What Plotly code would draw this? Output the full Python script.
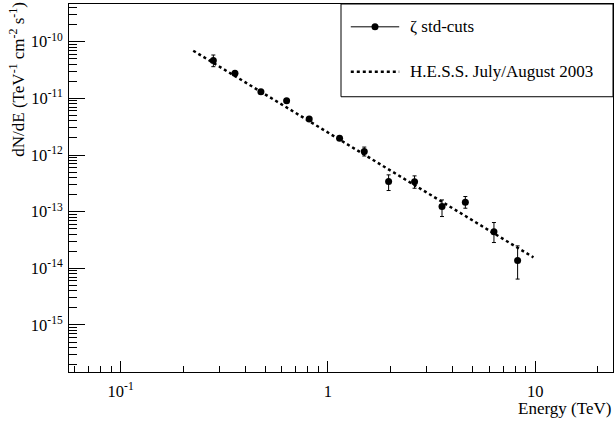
import plotly.graph_objects as go

# Measured differential spectrum (zeta analysis, standard cuts)
energy_tev = [0.280, 0.356, 0.475, 0.632, 0.812, 1.138, 1.497, 1.962, 2.617, 3.55, 4.60, 6.32, 8.22]
flux = [4.65e-11, 2.77e-11, 1.31e-11, 9.1e-12, 4.34e-12, 1.98e-12, 1.15e-12,
        3.40e-13, 3.36e-13, 1.23e-13, 1.47e-13, 4.40e-14, 1.37e-14]
flux_hi = [5.82e-11, 3.00e-11, 1.42e-11, 9.9e-12, 4.70e-12, 2.15e-12, 1.38e-12,
           4.46e-13, 4.28e-13, 1.61e-13, 1.85e-13, 6.43e-14, 2.49e-14]
flux_lo = [3.62e-11, 2.56e-11, 1.21e-11, 8.4e-12, 4.00e-12, 1.83e-12, 0.96e-12,
           2.36e-13, 2.59e-13, 8.2e-14, 1.15e-13, 2.85e-14, 6.46e-15]

# H.E.S.S. July/August 2003 power-law spectrum (end points of the fitted range)
hess_energy = [0.224, 9.8]
hess_flux = [6.93e-11, 1.56e-14]

# Axis tick labels
x_tickvals = [0.1, 1, 10]
x_ticktext = ["10<sup>-1</sup>", "1", "10"]
y_tickvals = [1e-10, 1e-11, 1e-12, 1e-13, 1e-14, 1e-15]
y_ticktext = ["10<sup>-10</sup>", "10<sup>-11</sup>", "10<sup>-12</sup>",
              "10<sup>-13</sup>", "10<sup>-14</sup>", "10<sup>-15</sup>"]

FONT = "Liberation Serif"
TICK_FS = 16.5
TEXT_FS = 17

err_plus = [h - f for h, f in zip(flux_hi, flux)]
err_minus = [f - l for f, l in zip(flux, flux_lo)]

fig = go.Figure()

fig.add_trace(go.Scatter(
    x=hess_energy, y=hess_flux, mode="lines",
    line=dict(color="black", width=2.5, dash="3px,3px"),
    hoverinfo="skip", showlegend=False,
))

fig.add_trace(go.Scatter(
    x=energy_tev, y=flux, mode="markers",
    marker=dict(color="black", size=7, symbol="circle"),
    error_y=dict(type="data", symmetric=False, array=err_plus, arrayminus=err_minus,
                 color="black", thickness=1, width=2),
    showlegend=False,
))

axis_common = dict(
    type="log", showline=True, linecolor="black", linewidth=1, mirror=True,
    showgrid=False, zeroline=False, ticks="inside", tickcolor="black", tickwidth=1,
    tickfont=dict(family=FONT, size=TICK_FS, color="black"),
)

fig.update_xaxes(
    **axis_common, range=[-1.249, 1.375], ticklen=11, ticklabelstandoff=4,
    tickmode="array", tickvals=x_tickvals, ticktext=x_ticktext,
    minor=dict(ticks="inside", ticklen=6, tickcolor="black", tickwidth=1, dtick="D1", showgrid=False),
)
fig.update_yaxes(
    **axis_common, range=[-15.83, -9.335], ticklen=16, ticklabelstandoff=2,
    tickmode="array", tickvals=y_tickvals, ticktext=y_ticktext,
    minor=dict(ticks="inside", ticklen=8, tickcolor="black", tickwidth=1, dtick="D1", showgrid=False),
)

# Legend box drawn in paper coordinates
shapes = [
    dict(type="rect", xref="paper", yref="paper", x0=0.5, x1=1.0, y0=0.748, y1=1.0,
         line=dict(color="black", width=1), fillcolor="white", layer="above"),
    dict(type="line", xref="paper", yref="paper", x0=0.518, x1=0.607, y0=0.938, y1=0.938,
         line=dict(color="black", width=1), layer="above"),
    dict(type="circle", xref="paper", yref="paper", xsizemode="pixel", ysizemode="pixel",
         xanchor=0.5625, yanchor=0.938, x0=-3.5, x1=3.5, y0=-3.5, y1=3.5,
         fillcolor="black", line=dict(color="black", width=0), layer="above"),
    dict(type="line", xref="paper", yref="paper", x0=0.518, x1=0.607, y0=0.816, y1=0.816,
         line=dict(color="black", width=2.5, dash="3px,3px"), layer="above"),
]

annotations = [
    dict(text="ζ std-cuts", xref="paper", yref="paper", x=0.623, y=0.938,
         xanchor="left", yanchor="middle", showarrow=False,
         font=dict(family=FONT, size=TEXT_FS, color="black")),
    dict(text="H.E.S.S. July/August 2003", xref="paper", yref="paper", x=0.623, y=0.816,
         xanchor="left", yanchor="middle", showarrow=False,
         font=dict(family=FONT, size=TEXT_FS, color="black")),
    dict(text="Energy (TeV)", xref="paper", yref="paper", x=1.0, y=-0.099,
         xanchor="right", yanchor="middle", showarrow=False,
         font=dict(family=FONT, size=TEXT_FS, color="black")),
    dict(text="dN/dE (TeV<sup>-1</sup> cm<sup>-2</sup> s<sup>-1</sup>)", xref="paper", yref="paper",
         x=-0.0956, y=0.797, xanchor="center", yanchor="middle", textangle=-90, showarrow=False,
         font=dict(family=FONT, size=TEXT_FS, color="black")),
]

fig.update_layout(
    width=614, height=423,
    margin=dict(l=69, r=1, t=4, b=51),
    paper_bgcolor="white", plot_bgcolor="white",
    font=dict(family=FONT, color="black"),
    shapes=shapes, annotations=annotations,
    showlegend=False,
)

fig.write_html("out.html")
